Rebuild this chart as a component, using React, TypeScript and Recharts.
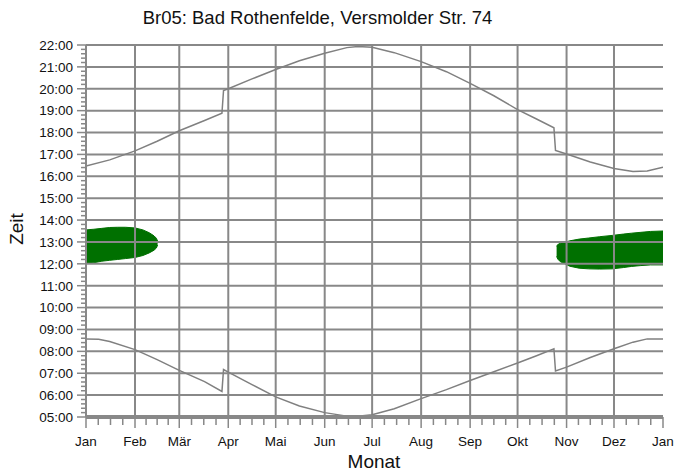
import { ComposedChart, Line, Area, XAxis, YAxis, ReferenceLine } from "recharts";

// day of year (0..365) and time of day in decimal hours
const sunsetDays = [0, 15, 31, 45, 59, 75, 86, 87, 90, 105, 120, 135, 151, 165, 172, 181, 195, 212, 228, 243, 258, 273, 285, 296, 297, 304, 319, 334, 346, 355, 365];
const sunsetHours = [16.47, 16.75, 17.16, 17.6, 18.08, 18.55, 18.88, 19.92, 20.0, 20.45, 20.88, 21.28, 21.62, 21.88, 21.93, 21.9, 21.65, 21.24, 20.78, 20.25, 19.68, 19.05, 18.62, 18.22, 17.18, 17.02, 16.65, 16.36, 16.22, 16.24, 16.42];

const sunriseDays = [0, 8, 15, 31, 45, 59, 75, 86, 87, 90, 105, 120, 135, 151, 165, 172, 181, 195, 212, 228, 243, 258, 273, 285, 296, 297, 304, 319, 334, 346, 355, 365];
const sunriseHours = [8.57, 8.55, 8.45, 8.08, 7.62, 7.13, 6.62, 6.17, 7.17, 7.05, 6.48, 5.92, 5.5, 5.2, 5.04, 5.03, 5.1, 5.38, 5.84, 6.25, 6.67, 7.07, 7.47, 7.8, 8.12, 7.1, 7.28, 7.72, 8.12, 8.42, 8.57, 8.57];

// shadow periods (green), low / high edge
const shadowADays = [0, 5, 10, 15, 20, 25, 31, 36, 40, 43, 44.5, 45.3];
const shadowALow = [12.02, 12.05, 12.12, 12.16, 12.2, 12.24, 12.29, 12.38, 12.5, 12.62, 12.72, 12.86];
const shadowAHigh = [13.55, 13.58, 13.62, 13.66, 13.67, 13.67, 13.64, 13.55, 13.42, 13.28, 13.17, 13.04];

const shadowBDays = [297.7, 298.4, 300, 303, 306, 312, 318, 325, 333, 340, 345, 351, 357, 365];
const shadowBLow = [12.34, 12.22, 12.1, 12.0, 11.89, 11.8, 11.77, 11.76, 11.77, 11.83, 11.88, 11.92, 11.95, 11.95];
const shadowBHigh = [12.8, 12.88, 12.94, 12.99, 13.05, 13.13, 13.18, 13.24, 13.3, 13.36, 13.4, 13.44, 13.48, 13.5];

const monthStarts = [0, 31, 59, 90, 120, 151, 181, 212, 243, 273, 304, 334, 365];
const monthLabels = ["Jan", "Feb", "Mär", "Apr", "Mai", "Jun", "Jul", "Aug", "Sep", "Okt", "Nov", "Dez", "Jan"];
const hourTicks = [5, 6, 7, 8, 9, 10, 11, 12, 13, 14, 15, 16, 17, 18, 19, 20, 21, 22];

const GRID = "#888888";
const CURVE = "#808080";
const GREEN = "#007000";
const FONT = "Arial, 'Liberation Sans', sans-serif";

const sunset = sunsetDays.map((d, i) => ({ day: d, t: sunsetHours[i] }));
const sunrise = sunriseDays.map((d, i) => ({ day: d, t: sunriseHours[i] }));
const shadowA = shadowADays.map((d, i) => ({ day: d, range: [shadowALow[i], shadowAHigh[i]] }));
const shadowB = shadowBDays.map((d, i) => ({ day: d, range: [shadowBLow[i], shadowBHigh[i]] }));

// month starts plus three minor ticks per month
const xTicks: number[] = [];
monthStarts.forEach((s, i) => {
  xTicks.push(s);
  const e = monthStarts[i + 1];
  if (e !== undefined) for (let k = 1; k < 4; k++) xTicks.push(s + ((e - s) * k) / 4);
});

// every 12 minutes
const yTicks: number[] = [];
for (let m = 5 * 60; m <= 22 * 60; m += 12) yTicks.push(m / 60);

const MARGIN = { top: 45, right: 11, bottom: 15, left: 6 };

const MonthTick = (props: any) => {
  const { x, y, payload } = props;
  const idx = monthStarts.indexOf(payload.value);
  const major = idx >= 0;
  return (
    <g>
      <line x1={x} x2={x} y1={y} y2={y + (major ? 11 : 8)} stroke={GRID} strokeWidth={1.5} />
      {major && (
        <text x={x} y={y + 29} textAnchor="middle" fontSize={13.5} fontFamily={FONT} fill="#111">
          {monthLabels[idx]}
        </text>
      )}
    </g>
  );
};

const HourTick = (props: any) => {
  const { x, y, payload } = props;
  const v = payload.value;
  const major = Math.abs(v - Math.round(v)) < 1e-6;
  return (
    <g>
      <line x1={x - (major ? 9 : 5)} x2={x} y1={y} y2={y} stroke={GRID} strokeWidth={1.5} />
      {major && (
        <text x={x - 13} y={y} dy={4.8} textAnchor="end" fontSize={13.5} fontFamily={FONT} fill="#111">
          {String(Math.round(v)).padStart(2, "0")}:00
        </text>
      )}
    </g>
  );
};

// same axis geometry in both layers; only the top layer draws them
const axes = (visible: boolean) => [
  <XAxis
    key="x"
    dataKey="day"
    type="number"
    domain={[0, 365]}
    ticks={xTicks}
    interval={0}
    tick={visible ? <MonthTick /> : false}
    tickLine={false}
    tickSize={0}
    tickMargin={0}
    height={40}
    axisLine={visible ? { stroke: GRID, strokeWidth: 4 } : false}
    allowDataOverflow
  />,
  <YAxis
    key="y"
    type="number"
    domain={[5, 22]}
    ticks={yTicks}
    interval={0}
    tick={visible ? <HourTick /> : false}
    tickLine={false}
    tickSize={0}
    tickMargin={0}
    width={80}
    axisLine={visible ? { stroke: GRID, strokeWidth: 2 } : false}
    allowDataOverflow
  />,
];

export default function App() {
  return (
    <div style={{ position: "relative", width: 674, height: 472, background: "#fff", fontFamily: FONT }}>
      <style>{"body{margin:0}"}</style>
      <div style={{ position: "absolute", left: 0, width: 635, top: 7, textAlign: "center", fontSize: 18.5, color: "#111", lineHeight: "22px" }}>
        Br05: Bad Rothenfelde, Versmolder Str. 74
      </div>
      <div style={{ position: "absolute", left: 17, top: 229, transform: "translate(-50%, -50%) rotate(-90deg)", fontSize: 19, color: "#111", lineHeight: "20px" }}>
        Zeit
      </div>
      <div style={{ position: "absolute", left: 374, top: 462, transform: "translate(-50%, -50%)", fontSize: 19, color: "#111", lineHeight: "20px" }}>
        Monat
      </div>

      {/* shadow periods underneath the grid */}
      <div style={{ position: "absolute", left: 0, top: 0 }}>
        <ComposedChart width={674} height={472} margin={MARGIN}>
          {axes(false)}
          <Area data={shadowA} dataKey="range" type="linear" fill={GREEN} fillOpacity={1} stroke={GREEN} strokeWidth={1} isAnimationActive={false} />
          <Area data={shadowB} dataKey="range" type="linear" fill={GREEN} fillOpacity={1} stroke={GREEN} strokeWidth={1} isAnimationActive={false} />
        </ComposedChart>
      </div>

      {/* grid, axes and sunrise / sunset */}
      <div style={{ position: "absolute", left: 0, top: 0 }}>
        <ComposedChart width={674} height={472} margin={MARGIN}>
          {axes(true)}
          {hourTicks.map((h) => (
            <ReferenceLine key={"h" + h} y={h} stroke={GRID} strokeWidth={2} />
          ))}
          {monthStarts.slice(1, 12).map((d) => (
            <ReferenceLine key={"m" + d} x={d} stroke={GRID} strokeWidth={2} />
          ))}
          <Line data={sunset} dataKey="t" type="linear" stroke={CURVE} strokeWidth={1.5} dot={false} isAnimationActive={false} />
          <Line data={sunrise} dataKey="t" type="linear" stroke={CURVE} strokeWidth={1.5} dot={false} isAnimationActive={false} />
        </ComposedChart>
      </div>
    </div>
  );
}
